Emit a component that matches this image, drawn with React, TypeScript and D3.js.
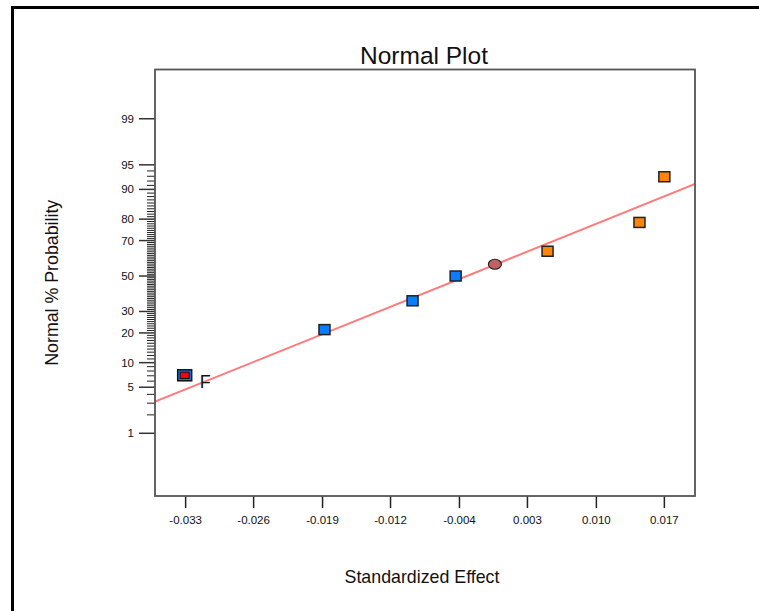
import React, { useRef, useEffect } from 'react';
import * as d3 from 'd3';

// effects (standardized effect, normal % probability)
const effectX = [-0.0331, -0.0185, -0.0093, -0.0048, 0.0048, 0.0144, 0.017];
const effectP = [7.1, 21.4, 35.7, 50.0, 64.3, 78.6, 92.9];
const effectSign = ['neg', 'neg', 'neg', 'neg', 'pos', 'pos', 'pos'];
const effectLabel = ['F', '', '', '', '', '', ''];
const effectSelected = [true, false, false, false, false, false, false];

// error estimate (circle)
const errorX = [-0.0007];
const errorP = [56.9];

// fitted normal line
const fitMean = -0.00364;
const fitSd = 0.01752;

const xTicks = [-0.033, -0.0259, -0.0187, -0.0116, -0.0044, 0.0027, 0.0099, 0.017];
const yMajorTicks = [1, 5, 10, 20, 30, 50, 70, 80, 90, 95, 99];
const yMinorTicks = d3.range(2, 95).filter(p => !yMajorTicks.includes(p));

const font = '"Liberation Sans", Arial, Helvetica, sans-serif';

// inverse normal cdf (Acklam)
function probit(p: number) {
  const a = [-39.69683028665376, 220.9460984245205, -275.9285104469687, 138.357751867269, -30.66479806614716, 2.506628277459239];
  const b = [-54.47609879822406, 161.5858368580409, -155.6989798598866, 66.80131188771972, -13.28068155288572];
  const c = [-0.007784894002430293, -0.3223964580411365, -2.400758277161838, -2.549732539343734, 4.374664141464968, 2.938163982698783];
  const d = [0.007784695709041462, 0.3224671290700398, 2.445134137142996, 3.754408661907416];
  const pl = 0.02425;
  if (p < pl) {
    const q = Math.sqrt(-2 * Math.log(p));
    return (((((c[0] * q + c[1]) * q + c[2]) * q + c[3]) * q + c[4]) * q + c[5]) / ((((d[0] * q + d[1]) * q + d[2]) * q + d[3]) * q + 1);
  }
  if (p > 1 - pl) {
    const q = Math.sqrt(-2 * Math.log(1 - p));
    return -(((((c[0] * q + c[1]) * q + c[2]) * q + c[3]) * q + c[4]) * q + c[5]) / ((((d[0] * q + d[1]) * q + d[2]) * q + d[3]) * q + 1);
  }
  const q = p - 0.5;
  const r = q * q;
  return (((((a[0] * r + a[1]) * r + a[2]) * r + a[3]) * r + a[4]) * r + a[5]) * q / (((((b[0] * r + b[1]) * r + b[2]) * r + b[3]) * r + b[4]) * r + 1);
}

export default function App() {
  const ref = useRef<SVGSVGElement>(null);

  useEffect(() => {
    const svg = d3.select(ref.current);
    svg.selectAll('*').remove();

    const width = 759;
    const height = 611;
    const plot = { left: 155, right: 695, top: 69.5, bottom: 496 };

    const x = d3.scaleLinear().domain([-0.0362, 0.0202]).range([plot.left, plot.right]);
    const z = d3.scaleLinear().domain([-3.254, 3.055]).range([plot.bottom, plot.top]);
    const y = (pct: number) => z(probit(pct / 100));

    svg.attr('viewBox', `0 0 ${width} ${height}`);

    // outer frame
    svg.append('rect')
      .attr('x', 12.5).attr('y', 7.5)
      .attr('width', width + 20).attr('height', height + 20)
      .attr('fill', 'none').attr('stroke', '#000').attr('stroke-width', 3);

    // title
    svg.append('text')
      .attr('x', (plot.left + plot.right) / 2 - 1).attr('y', 64)
      .attr('text-anchor', 'middle')
      .attr('font-family', font).attr('font-size', 24.5)
      .attr('fill', '#111')
      .text('Normal Plot');

    // axis titles
    svg.append('text')
      .attr('transform', `translate(58,${(plot.top + plot.bottom) / 2}) rotate(-90)`)
      .attr('text-anchor', 'middle')
      .attr('font-family', font).attr('font-size', 17.8)
      .attr('fill', '#111')
      .text('Normal % Probability');

    svg.append('text')
      .attr('x', (plot.left + plot.right) / 2 - 3).attr('y', 583)
      .attr('text-anchor', 'middle')
      .attr('font-family', font).attr('font-size', 17.8)
      .attr('fill', '#111')
      .text('Standardized Effect');

    // y minor ticks
    svg.append('g')
      .selectAll('line')
      .data(yMinorTicks)
      .join('line')
      .attr('x1', plot.left - 8).attr('x2', plot.left)
      .attr('y1', d => y(d)).attr('y2', d => y(d))
      .attr('stroke', '#222').attr('stroke-width', 1);

    // y major ticks
    const yMaj = svg.append('g');
    yMaj.selectAll('line')
      .data(yMajorTicks)
      .join('line')
      .attr('x1', plot.left - 16).attr('x2', plot.left)
      .attr('y1', d => y(d)).attr('y2', d => y(d))
      .attr('stroke', '#333').attr('stroke-width', 1.5);
    yMaj.selectAll('text')
      .data(yMajorTicks)
      .join('text')
      .attr('x', 134).attr('y', d => y(d))
      .attr('dy', '0.35em')
      .attr('text-anchor', 'end')
      .attr('font-family', font).attr('font-size', 11.5)
      .attr('fill', '#111')
      .text(d => String(d));

    // x ticks
    const xg = svg.append('g');
    xg.selectAll('line')
      .data(xTicks)
      .join('line')
      .attr('x1', d => x(d)).attr('x2', d => x(d))
      .attr('y1', plot.bottom).attr('y2', plot.bottom + 12)
      .attr('stroke', '#222').attr('stroke-width', 1.5);
    xg.selectAll('text')
      .data(xTicks)
      .join('text')
      .attr('x', d => x(d)).attr('y', 524)
      .attr('text-anchor', 'middle')
      .attr('font-family', font).attr('font-size', 11.5)
      .attr('fill', '#111')
      .text(d => d.toFixed(3));

    // clip for fit line
    svg.append('clipPath').attr('id', 'plot-clip')
      .append('rect')
      .attr('x', plot.left).attr('y', plot.top)
      .attr('width', plot.right - plot.left).attr('height', plot.bottom - plot.top);

    const [x0, x1] = x.domain();
    svg.append('line')
      .attr('clip-path', 'url(#plot-clip)')
      .attr('x1', x(x0)).attr('y1', z((x0 - fitMean) / fitSd))
      .attr('x2', x(x1)).attr('y2', z((x1 - fitMean) / fitSd))
      .attr('stroke', '#ff7b7b').attr('stroke-width', 2);

    // plot frame
    svg.append('rect')
      .attr('x', plot.left).attr('y', plot.top)
      .attr('width', plot.right - plot.left).attr('height', plot.bottom - plot.top)
      .attr('fill', 'none').attr('stroke', '#555').attr('stroke-width', 1.8);

    // points
    const pts = effectX.map((v, i) => ({
      x: v, p: effectP[i], sign: effectSign[i], label: effectLabel[i], sel: effectSelected[i],
    }));

    const pg = svg.append('g');
    pts.forEach(d => {
      const cx = x(d.x);
      const cy = y(d.p);
      const fill = d.sign === 'neg' ? '#0a7cff' : '#ff8400';
      if (d.sel) {
        pg.append('rect')
          .attr('x', cx - 7).attr('y', cy - 5.5).attr('width', 14).attr('height', 11)
          .attr('fill', fill).attr('stroke', '#111').attr('stroke-width', 1.5);
        pg.append('rect')
          .attr('x', cx - 4.5).attr('y', cy - 3.2).attr('width', 9).attr('height', 6.4)
          .attr('fill', '#ff0000').attr('stroke', '#111').attr('stroke-width', 1);
      } else {
        pg.append('rect')
          .attr('x', cx - 5.5).attr('y', cy - 5).attr('width', 11).attr('height', 10)
          .attr('fill', fill).attr('stroke', '#222').attr('stroke-width', 1.5);
      }
      if (d.label) {
        pg.append('text')
          .attr('x', cx + 15).attr('y', cy + 12.5)
          .attr('font-family', font).attr('font-size', 18)
          .attr('fill', '#111')
          .text(d.label);
      }
    });

    pg.selectAll('ellipse')
      .data(errorX.map((v, i) => ({ x: v, p: errorP[i] })))
      .join('ellipse')
      .attr('cx', d => x(d.x)).attr('cy', d => y(d.p))
      .attr('rx', 6.5).attr('ry', 5)
      .attr('fill', '#c06262').attr('stroke', '#222').attr('stroke-width', 1.2);
  }, []);

  return (
    <svg
      ref={ref}
      width={759}
      height={611}
      style={{ position: 'absolute', left: 0, top: 0, display: 'block', background: '#fff' }}
    />
  );
}
